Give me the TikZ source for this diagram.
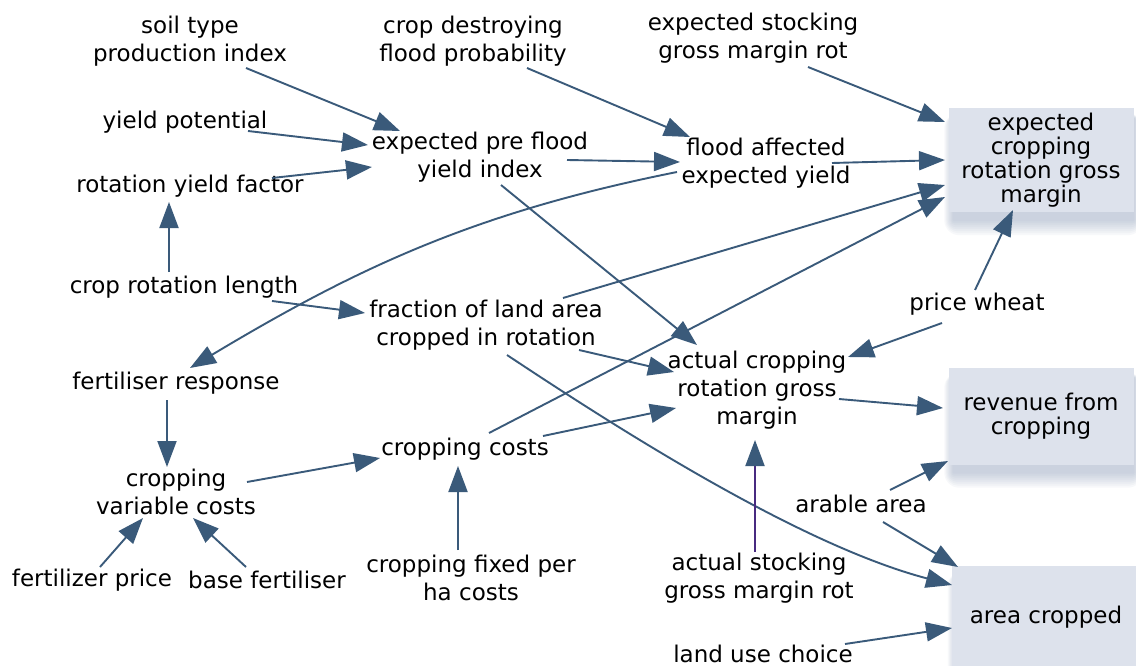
\documentclass[tikz,border=0pt]{standalone}
\usepackage{fontspec}
\setmainfont{DejaVu Sans}
\usetikzlibrary{arrows.meta,calc,backgrounds}
\definecolor{arr}{RGB}{58,90,122}
\definecolor{boxfill}{RGB}{221,226,236}
\definecolor{shc}{RGB}{120,140,175}
\definecolor{purp}{RGB}{72,42,128}
\begin{document}
\begin{tikzpicture}[x=1pt,y=-1pt,
  lbl/.style={align=center, font=\fontsize{23}{28}\selectfont, inner sep=0pt, text=black},
  outbox/.style={fill=boxfill, draw=none, align=center, inner sep=0pt,
    font=\fontsize{23}{24}\selectfont},
  link/.style={draw=arr, line width=1.9pt, -{Triangle[length=26pt,width=19pt]}},
  plink/.style={draw=purp, line width=1.9pt, -{Triangle[length=26pt,width=19pt,color=arr]}}]
\useasboundingbox (0,0) rectangle (1136,666);

% boxes
\node[outbox, minimum width=185pt, minimum height=104pt] (ecrgm) at (1041,160) {expected\\cropping\\rotation gross\\margin};
\node[outbox, minimum width=185pt, minimum height=97pt] (revenue) at (1041,416) {revenue from\\cropping};
\node[outbox, minimum width=188pt, minimum height=102pt] (area) at (1046,617) {area cropped};

\begin{scope}[on background layer]
  \fill[white] (0,0) rectangle (1136,666);
  \foreach \b in {ecrgm,revenue,area}{
    \foreach \r in {1,3,...,15}{
      \fill[shc, opacity=0.055, rounded corners=\r pt]
        ([xshift=5pt-0.6*\r pt, yshift=-10pt+0.3*\r pt]\b.north west) rectangle
        ([xshift=0.6*\r pt, yshift=-8pt-\r pt]\b.south east);
    }
  }
\end{scope}

% labels
\node[lbl] (soil) at (190,41) {soil type\\production index};
\node[lbl] (destroy) at (473,41) {crop destroying\\flood probability};
\node[lbl] (stock) at (753,38) {expected stocking\\gross margin rot};
\node[lbl] (ypot) at (185,122) {yield potential};
\node[lbl] (ryf) at (190,186) {rotation yield factor};
\node[lbl] (epf) at (480,157) {expected pre flood\\yield index};
\node[lbl] (flood) at (766,163) {flood affected\\expected yield};
\node[lbl] (crl) at (184,287) {crop rotation length};
\node[lbl] (frac) at (486,325) {fraction of land area\\cropped in rotation};
\node[lbl] (price) at (977,304) {price wheat};
\node[lbl] (fresp) at (176,383) {fertiliser response};
\node[lbl] (acrgm) at (757,390) {actual cropping\\rotation gross\\margin};
\node[lbl] (cvc) at (176,492) {cropping\\variable costs};
\node[lbl] (ccost) at (465,449) {cropping costs};
\node[lbl] (arable) at (861,504) {arable area};
\node[lbl] (fprice) at (92,580) {fertilizer price};
\node[lbl] (basef) at (267,580) {base fertiliser};
\node[lbl] (fixed) at (471,578) {cropping fixed per\\ha costs};
\node[lbl] (astock) at (759,578) {actual stocking\\gross margin rot};
\node[lbl] (landuse) at (763,654) {land use choice};

% connectors
\draw[link] ($(soil)+(56,27)$) -- ($(epf)+(-80,-26)$);
\draw[link] ($(ypot)+(63,9)$) -- ($(epf)+(-112,-12)$);
\draw[link] ($(ryf)+(82,-8)$) -- ($(epf)+(-108,10)$);
\draw[link] ($(crl)+(-15,-15)$) -- ($(ryf)+(-21,16)$);
\draw[link] ($(epf)+(87,3)$) -- ($(flood)+(-86,-1)$);
\draw[link] ($(destroy)+(54,27)$) -- ($(flood)+(-76,-26)$);
\draw[link] ($(stock)+(55,29)$) -- ($(ecrgm)+(-96,-38)$);
\draw[link] ($(flood)+(66,0)$) -- ($(ecrgm)+(-96,0)$);
\draw[link] ($(flood)+(-89,9)$) .. controls ($(flood)+(-289,49)$) and ($(fresp)+(184,-117)$) .. ($(fresp)+(14,-15)$);
\draw[link] ($(frac)+(77,-27)$) -- ($(ecrgm)+(-96,25)$);
\draw[link] ($(ccost)+(24,-16)$) -- ($(ecrgm)+(-96,37)$);
\draw[link] ($(epf)+(21,28)$) -- ($(acrgm)+(-60,-45)$);
\draw[link] ($(price)+(-2,-14)$) -- ($(ecrgm)+(-28,50)$);
\draw[link] ($(price)+(-35,19)$) -- ($(acrgm)+(91,-33)$);
\draw[link] ($(crl)+(88,14)$) -- ($(frac)+(-121,-12)$);
\draw[link] ($(frac)+(93,25)$) -- ($(acrgm)+(-83,-18)$);
\draw[link] ($(frac)+(21,30)$) .. controls ($(frac)+(134,105)$) and ($(area)+(-246,-72)$) .. ($(area)+(-94,-32)$);
\draw[link] ($(ccost)+(78,-13)$) -- ($(acrgm)+(-81,18)$);
\draw[link] ($(acrgm)+(82,9)$) -- ($(revenue)+(-98,-8)$);
\draw[link] ($(fresp)+(-9,17)$) -- ($(cvc)+(-9,-25)$);
\draw[link] ($(cvc)+(71,-10)$) -- ($(ccost)+(-85,9)$);
\draw[link] ($(fprice)+(8,-13)$) -- ($(cvc)+(-33,26)$);
\draw[link] ($(basef)+(-21,-13)$) -- ($(cvc)+(17,26)$);
\draw[link] ($(fixed)+(-13,-28)$) -- ($(ccost)+(-7,17)$);
\draw[plink] ($(astock)+(-4,-26)$) -- ($(acrgm)+(-2,50)$);
\draw[link] ($(arable)+(29,-14)$) -- ($(revenue)+(-93,45)$);
\draw[link] ($(arable)+(22,18)$) -- ($(area)+(-88,-50)$);
\draw[link] ($(landuse)+(82,-10)$) -- ($(area)+(-94,11)$);
\end{tikzpicture}
\end{document}
